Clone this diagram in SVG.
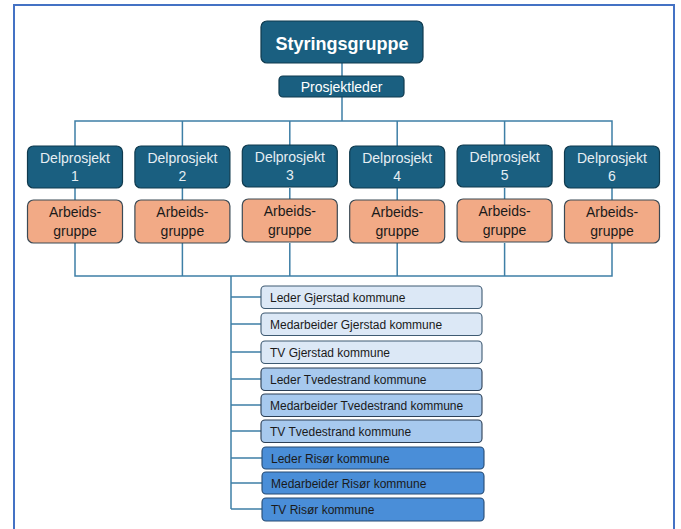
<svg xmlns="http://www.w3.org/2000/svg" width="681" height="529" viewBox="0 0 681 529">
  <style>
    .frame { fill: #ffffff; stroke: #4472C4; stroke-width: 2; }
    .dark { fill: #1A5F80; stroke: #0F3A4E; stroke-width: 1.2; }
    .orange { fill: #F2AA86; stroke: #3B4A55; stroke-width: 1.2; }
    .l1 { fill: #DCE8F6; stroke: #3E5A72; stroke-width: 1.1; }
    .l2 { fill: #A7C9EE; stroke: #2C3F55; stroke-width: 1.1; }
    .l3 { fill: #4A8ED8; stroke: #274B73; stroke-width: 1.1; }
    .wire { fill: none; stroke: #3E7FA6; stroke-width: 1.5; }
    text { font-family: "Liberation Sans", Arial, sans-serif; }
    .title { font-size: 18px; font-weight: bold; fill: #ffffff; text-anchor: middle; }
    .lead { font-size: 14px; fill: #ffffff; text-anchor: middle; }
    .dp { font-size: 14px; fill: #E6EEF3; text-anchor: middle; }
    .ag { font-size: 14px; fill: #1A1A1A; text-anchor: middle; }
    .item { font-size: 12px; fill: #1A1A1A; }
  </style>

  <!-- outer frame -->
  <rect class="frame" x="14" y="5" width="660" height="600"/>

  <!-- connectors -->
  <g id="connectors">
    <path class="wire" d="M342 63 V76 M342 97 V121"/>
    <path class="wire" d="M75 146 V121 H612 V146"/>
    <path class="wire" d="M182.4 121 V146 M289.8 121 V146 M397.2 121 V146 M504.6 121 V146"/>
    <path class="wire" d="M75 188 V200 M182.4 188 V200 M289.8 188 V200 M397.2 188 V200 M504.6 188 V200 M612 188 V200"/>
    <path class="wire" d="M75 243 V276 H612 V243 M182.4 243 V276 M289.8 243 V276 M397.2 243 V276 M504.6 243 V276"/>
    <path class="wire" d="M231 276 V509"/>
    <path class="wire" d="M231 297 H261 M231 324 H261 M231 352 H261 M231 379 H261 M231 405 H261 M231 431 H261 M231 458 H262 M231 483 H262 M231 509 H262"/>
  </g>

  <g id="styringsgruppe">
    <rect class="dark" x="261" y="21" width="162" height="42" rx="6"/>
    <text class="title" x="342" y="50">Styringsgruppe</text>
  </g>

  <g id="prosjektleder">
    <rect class="dark" x="279" y="76" width="125" height="21" rx="4"/>
    <text class="lead" x="341.5" y="91.5">Prosjektleder</text>
  </g>

  <!-- sub-projects with their working groups -->
  <g id="delprosjekt-1">
    <rect class="dark" x="27.5" y="146" width="95" height="42" rx="6"/>
    <text class="dp" x="75" y="163">Delprosjekt</text>
    <text class="dp" x="75" y="181">1</text>
  </g>
  <g id="arbeidsgruppe-1">
    <rect class="orange" x="27.5" y="200" width="95" height="43" rx="6"/>
    <text class="ag" x="75" y="217">Arbeids-</text>
    <text class="ag" x="75" y="236">gruppe</text>
  </g>

  <g id="delprosjekt-2">
    <rect class="dark" x="134.9" y="146" width="95" height="42" rx="6"/>
    <text class="dp" x="182.4" y="163">Delprosjekt</text>
    <text class="dp" x="182.4" y="181">2</text>
  </g>
  <g id="arbeidsgruppe-2">
    <rect class="orange" x="134.9" y="200" width="95" height="43" rx="6"/>
    <text class="ag" x="182.4" y="217">Arbeids-</text>
    <text class="ag" x="182.4" y="236">gruppe</text>
  </g>

  <g id="delprosjekt-3">
    <rect class="dark" x="242.3" y="145" width="95" height="42" rx="6"/>
    <text class="dp" x="289.8" y="162">Delprosjekt</text>
    <text class="dp" x="289.8" y="180">3</text>
  </g>
  <g id="arbeidsgruppe-3">
    <rect class="orange" x="242.3" y="199" width="95" height="43" rx="6"/>
    <text class="ag" x="289.8" y="216">Arbeids-</text>
    <text class="ag" x="289.8" y="235">gruppe</text>
  </g>

  <g id="delprosjekt-4">
    <rect class="dark" x="349.7" y="146" width="95" height="42" rx="6"/>
    <text class="dp" x="397.2" y="163">Delprosjekt</text>
    <text class="dp" x="397.2" y="181">4</text>
  </g>
  <g id="arbeidsgruppe-4">
    <rect class="orange" x="349.7" y="200" width="95" height="43" rx="6"/>
    <text class="ag" x="397.2" y="217">Arbeids-</text>
    <text class="ag" x="397.2" y="236">gruppe</text>
  </g>

  <g id="delprosjekt-5">
    <rect class="dark" x="457.1" y="145" width="95" height="42" rx="6"/>
    <text class="dp" x="504.6" y="162">Delprosjekt</text>
    <text class="dp" x="504.6" y="180">5</text>
  </g>
  <g id="arbeidsgruppe-5">
    <rect class="orange" x="457.1" y="199" width="95" height="43" rx="6"/>
    <text class="ag" x="504.6" y="216">Arbeids-</text>
    <text class="ag" x="504.6" y="235">gruppe</text>
  </g>

  <g id="delprosjekt-6">
    <rect class="dark" x="564.5" y="146" width="95" height="42" rx="6"/>
    <text class="dp" x="612" y="163">Delprosjekt</text>
    <text class="dp" x="612" y="181">6</text>
  </g>
  <g id="arbeidsgruppe-6">
    <rect class="orange" x="564.5" y="200" width="95" height="43" rx="6"/>
    <text class="ag" x="612" y="217">Arbeids-</text>
    <text class="ag" x="612" y="236">gruppe</text>
  </g>

  <!-- municipal participants -->
  <g id="leder-gjerstad">
    <rect class="l1" x="261" y="286" width="221" height="22.5" rx="4"/>
    <text class="item" x="270" y="301.5">Leder Gjerstad kommune</text>
  </g>
  <g id="medarbeider-gjerstad">
    <rect class="l1" x="261" y="313" width="221" height="22.5" rx="4"/>
    <text class="item" x="270" y="328.5">Medarbeider Gjerstad kommune</text>
  </g>
  <g id="tv-gjerstad">
    <rect class="l1" x="261" y="341" width="221" height="22.5" rx="4"/>
    <text class="item" x="270" y="356.5">TV Gjerstad kommune</text>
  </g>
  <g id="leder-tvedestrand">
    <rect class="l2" x="261" y="368" width="221" height="22.5" rx="4"/>
    <text class="item" x="270" y="383.5">Leder Tvedestrand kommune</text>
  </g>
  <g id="medarbeider-tvedestrand">
    <rect class="l2" x="261" y="394" width="221" height="22.5" rx="4"/>
    <text class="item" x="270" y="409.5">Medarbeider Tvedestrand kommune</text>
  </g>
  <g id="tv-tvedestrand">
    <rect class="l2" x="261" y="420" width="221" height="22.5" rx="4"/>
    <text class="item" x="270" y="435.5">TV Tvedestrand kommune</text>
  </g>
  <g id="leder-risor">
    <rect class="l3" x="262" y="447" width="222" height="22" rx="4"/>
    <text class="item" x="271" y="462.5">Leder Risør kommune</text>
  </g>
  <g id="medarbeider-risor">
    <rect class="l3" x="262" y="472" width="222" height="22" rx="4"/>
    <text class="item" x="271" y="487.5">Medarbeider Risør kommune</text>
  </g>
  <g id="tv-risor">
    <rect class="l3" x="262" y="498" width="222" height="23" rx="4"/>
    <text class="item" x="271" y="514">TV Risør kommune</text>
  </g>
</svg>
